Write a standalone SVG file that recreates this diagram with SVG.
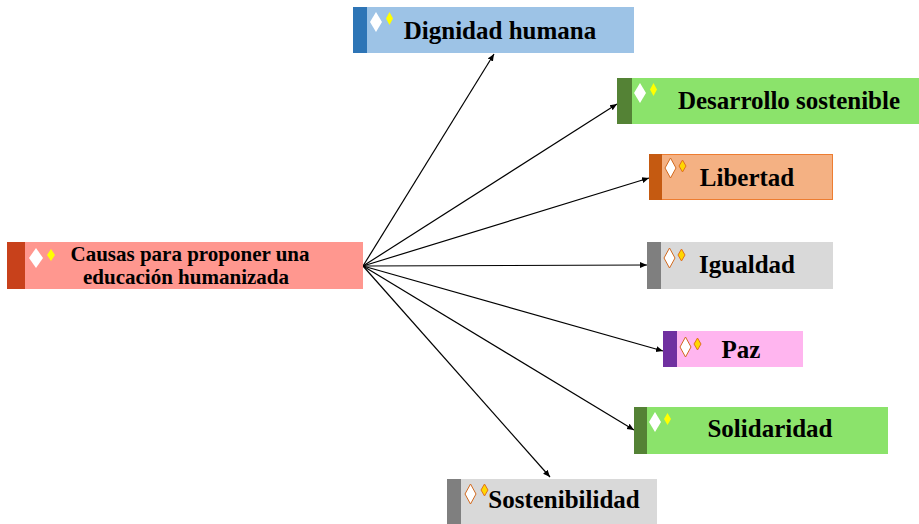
<svg xmlns="http://www.w3.org/2000/svg" width="919" height="524" viewBox="0 0 919 524">
<defs>
<marker id="arr" markerWidth="8" markerHeight="8" refX="7" refY="4" orient="auto" markerUnits="userSpaceOnUse">
<path d="M0,1 L7,4 L0,7 Z" fill="#000"/>
</marker>
</defs>
<style>
.t{font-family:"Liberation Serif","Times New Roman",serif;font-weight:bold;fill:#000;text-anchor:middle}
.big{font-size:25px}
.sm{font-size:21px}
.dw{fill:#fff}
.dy{fill:#ffff00}
.dwo{fill:#fff;stroke:#d2691e;stroke-width:1}
.dyo{fill:#ffd700;stroke:#e07020;stroke-width:1}
.c{stroke:#000;stroke-width:1.2;fill:none;marker-end:url(#arr)}
</style>
<rect width="919" height="524" fill="#fff"/>
<g id="connectors">
<line class="c" x1="363" y1="266" x2="494" y2="54"/>
<line class="c" x1="363" y1="266" x2="617" y2="104"/>
<line class="c" x1="363" y1="266" x2="649" y2="178"/>
<line class="c" x1="363" y1="266" x2="647" y2="265"/>
<line class="c" x1="363" y1="266" x2="663" y2="351"/>
<line class="c" x1="363" y1="266" x2="634" y2="430"/>
<line class="c" x1="363" y1="266" x2="550" y2="477"/>
</g>
<g id="main">
<rect x="7" y="242" width="356" height="47" fill="#ff978f"/>
<rect x="7" y="242" width="18" height="47" fill="#c8411b"/>
<path class="dw" d="M36,248 L43,258 L36,268 L29,258 Z"/>
<path class="dy" d="M51,249 L55,255 L51,261 L47,255 Z"/>
<text class="t sm" x="190" y="261">Causas para proponer una</text>
<text class="t sm" x="186" y="284">educación humanizada</text>
</g>
<g id="dignidad">
<rect x="353" y="7" width="281" height="46" fill="#9dc3e6"/>
<rect x="353" y="7" width="14" height="46" fill="#2e75b6"/>
<path class="dw" d="M376,12 L382,22 L376,32 L370,22 Z"/>
<path class="dy" d="M389.5,12 L393,18.5 L389.5,25 L386,18.5 Z"/>
<text class="t big" x="500" y="39">Dignidad humana</text>
</g>
<g id="desarrollo">
<rect x="617" y="78" width="302" height="46" fill="#8be36b"/>
<rect x="617" y="78" width="15" height="46" fill="#548235"/>
<path class="dw" d="M640,83 L646,93 L640,103 L634,93 Z"/>
<path class="dy" d="M653.5,83 L657,89.5 L653.5,96 L650,89.5 Z"/>
<text class="t big" x="789" y="109" textLength="222">Desarrollo sostenible</text>
</g>
<g id="libertad">
<rect x="649.5" y="154.5" width="183" height="45" fill="#f4b183" stroke="#ed7d31"/>
<rect x="649" y="154" width="13" height="46" fill="#c55a11"/>
<path class="dwo" d="M670.5,158 L676,168 L670.5,178 L665,168 Z"/>
<path class="dyo" d="M682.5,160 L686,166 L682.5,172 L679,166 Z"/>
<text class="t big" x="747" y="186">Libertad</text>
</g>
<g id="igualdad">
<rect x="647" y="242" width="186" height="47" fill="#d9d9d9"/>
<rect x="647" y="242" width="14" height="47" fill="#7f7f7f"/>
<path class="dwo" d="M669.5,248 L675,258 L669.5,268 L664,258 Z"/>
<path class="dyo" d="M681.5,249 L685,255 L681.5,261 L678,255 Z"/>
<text class="t big" x="747" y="273">Igualdad</text>
</g>
<g id="paz">
<rect x="663" y="331" width="140" height="36" fill="#ffb5ef"/>
<rect x="663" y="331" width="14" height="36" fill="#7030a0"/>
<path class="dwo" d="M685.5,337 L691,347 L685.5,357 L680,347 Z"/>
<path class="dyo" d="M697.5,338 L701,344 L697.5,350 L694,344 Z"/>
<text class="t big" x="741" y="358">Paz</text>
</g>
<g id="solidaridad">
<rect x="634" y="407" width="254" height="47" fill="#8be36b"/>
<rect x="634" y="407" width="13" height="47" fill="#548235"/>
<path class="dw" d="M655,412 L661,422 L655,432 L649,422 Z"/>
<path class="dy" d="M667.5,413 L671,419 L667.5,425 L664,419 Z"/>
<text class="t big" x="770" y="437">Solidaridad</text>
</g>
<g id="sostenibilidad">
<rect x="447" y="479" width="210" height="45" fill="#d9d9d9"/>
<rect x="447" y="479" width="14" height="45" fill="#7f7f7f"/>
<path class="dwo" d="M470.5,484 L476,494 L470.5,504 L465,494 Z"/>
<path class="dyo" d="M484.5,484 L488,490 L484.5,496 L481,490 Z"/>
<text class="t big" x="564" y="508">Sostenibilidad</text>
</g>
</svg>
